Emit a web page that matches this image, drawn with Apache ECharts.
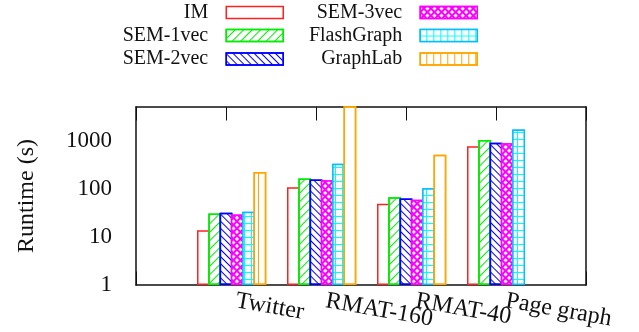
<!DOCTYPE html>
<html>
<head>
<meta charset="utf-8">
<script src="https://cdn.jsdelivr.net/npm/echarts@6/dist/echarts.min.js"></script>
<style>
  html, body { margin: 0; padding: 0; background: #fff; }
  #chart { width: 639px; height: 332px; }
</style>
</head>
<body>
<div id="chart"></div>
<script>
// runtimes in seconds
const graphs = ['Twitter', 'RMAT-160', 'RMAT-40', 'Page graph']
const imTimes = [13.7, 108, 48.7, 761]
const sem1Times = [30.6, 164, 66.8, 1029]
const sem2Times = [31.6, 156, 62.8, 908]
const sem3Times = [29.2, 151, 58.9, 879]
const flashTimes = [33.2, 331, 103, 1694]
const graphlabTimes = [222, 6000, 511, null]

const yTicks = [1, 10, 100, 1000]
const yMinorSteps = [2, 3, 4, 5, 6, 7, 8, 9]
const yMax = 5000
const yMinorTicks = yTicks.flatMap((d) => yMinorSteps.map((m) => d * m)).filter((v) => v <= yMax)

const font = '"Liberation Serif", serif'
const ink = '#111'
const chart = echarts.init(document.getElementById('chart'))

// empty slot at each end so the axis runs from -1 to 4
const xCats = ['', ...graphs, '']
const pad = (arr) => [null, ...arr, null]

// echarts draws the border inside the bar, so widen each bar by the border
// and overlap neighbours by the same amount: edges end up shared like gnuplot
const borderW = 1.5
const barW = 11.3 + borderW
const barGap = `${(-borderW / barW) * 100}%`

const makeBar = (name, data, color, decal) => ({
  name,
  type: 'bar',
  data: pad(data),
  barWidth: barW,
  barGap,
  itemStyle: { color: '#fff', borderColor: color, borderWidth: borderW, decal },
  emphasis: { disabled: true }
})

const series = [
  // spacer so the cluster sits half a bar right of the tick, like gnuplot
  { name: 'spacer', type: 'bar', data: pad([null, null, null, null]), barWidth: barW, barGap },
  makeBar('IM', imTimes, '#ff2020'),
  makeBar('SEM-1vec', sem1Times, '#00ee00', {
    symbol: 'rect', dashArrayX: [1, 0], dashArrayY: [1, 5], rotation: -Math.PI / 4, color: '#00ee00'
  }),
  makeBar('SEM-2vec', sem2Times, '#0000ff', {
    symbol: 'rect', dashArrayX: [1, 0], dashArrayY: [1, 4], rotation: Math.PI / 4, color: '#0000ff'
  }),
  makeBar('SEM-3vec', sem3Times, '#ff00ff', {
    symbol: 'rect', dashArrayX: [3, 1.2], dashArrayY: [3, 1.2], rotation: Math.PI / 4,
    color: '#fff', backgroundColor: '#ff00ff'
  }),
  makeBar('FlashGraph', flashTimes, '#00bfff', {
    symbol: 'rect', dashArrayX: [6, 1], dashArrayY: [6, 1], color: '#fff', backgroundColor: '#00ffff'
  }),
  makeBar('GraphLab', graphlabTimes, '#ffa500', {
    symbol: 'rect', dashArrayX: [1, 0], dashArrayY: [1, 6], rotation: Math.PI / 2, color: '#ffa500'
  })
]

const legendSlots = [
  ['IM', 355, 2.5], ['SEM-1vec', 355, 25.5], ['SEM-2vec', 355, 49],
  ['SEM-3vec', 161, 2.5], ['FlashGraph', 161, 25.5], ['GraphLab', 161, 49]
]

const frameLine = { show: true, onZero: false, lineStyle: { color: ink, width: 1.5 } }

const xAxisBase = {
  type: 'category',
  data: xCats,
  boundaryGap: false,
  axisLine: frameLine,
  axisTick: { inside: true, length: 13.5, lineStyle: { color: ink } },
  splitLine: { show: false }
}

const yAxisBase = {
  type: 'log',
  logBase: 10,
  min: 1,
  max: yMax,
  splitLine: { show: false },
  axisLabel: { show: false }
}

chart.setOption({
  animation: false,
  textStyle: { fontFamily: font, color: ink },
  grid: { left: 136, right: 53, top: 107, bottom: 47 },
  legend: legendSlots.map(([name, right, top]) => ({
    data: [name],
    right,
    top,
    orient: 'vertical',
    align: 'right',
    icon: 'rect',
    itemWidth: 57,
    itemHeight: 12,
    padding: 0,
    selectedMode: false,
    itemStyle: { borderWidth: 1.5 },
    textStyle: { fontFamily: font, fontSize: 20, color: ink, padding: [0, 13, 0, 0] }
  })),
  xAxis: [
    {
      ...xAxisBase,
      position: 'bottom',
      axisLabel: {
        interval: 0, rotate: -10, margin: 14, padding: [0, 0, 0, 10],
        fontFamily: font, fontSize: 24, color: ink
      }
    },
    { ...xAxisBase, position: 'top', axisLabel: { show: false } }
  ],
  yAxis: [
    {
      ...yAxisBase,
      position: 'left',
      axisLine: frameLine,
      axisTick: { inside: true, length: 13.5, customValues: yTicks, lineStyle: { color: ink } },
      axisLabel: {
        show: true, customValues: yTicks, margin: 24, formatter: (v) => String(v),
        fontFamily: font, fontSize: 23, color: ink
      },
      name: 'Runtime (s)',
      nameLocation: 'middle',
      nameGap: 97,
      nameTextStyle: { fontFamily: font, fontSize: 24, color: ink }
    },
    {
      ...yAxisBase,
      position: 'left',
      axisLine: { show: false },
      axisTick: { inside: true, length: 7, customValues: yMinorTicks, lineStyle: { color: '#555' } }
    },
    {
      ...yAxisBase,
      position: 'right',
      axisLine: frameLine,
      axisTick: { inside: true, length: 13.5, customValues: yTicks, lineStyle: { color: ink } }
    },
    {
      ...yAxisBase,
      position: 'right',
      axisLine: { show: false },
      axisTick: { inside: true, length: 7, customValues: yMinorTicks, lineStyle: { color: '#555' } }
    }
  ],
  series
})
</script>
</body>
</html>
